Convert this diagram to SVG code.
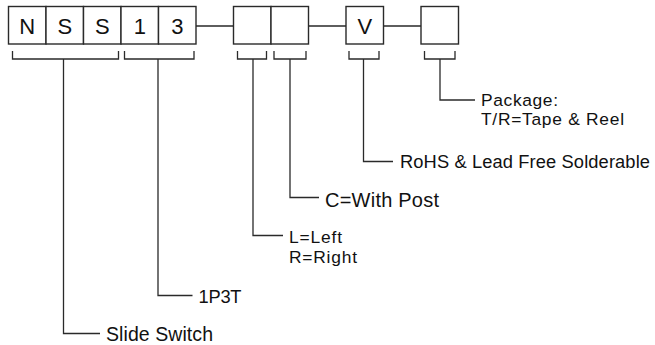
<svg xmlns="http://www.w3.org/2000/svg" width="655" height="345" viewBox="0 0 655 345">
<style>
.box{fill:#fff;stroke:#2a2a2a;stroke-width:1.4}
.ln{fill:none;stroke:#2a2a2a;stroke-width:1.3}
.ch{font-family:"Liberation Sans",Arial,sans-serif;font-size:22px;fill:#111;text-anchor:middle}
.lb{font-family:"Liberation Sans",Arial,sans-serif;font-size:18.3px;fill:#111}
.two{font-size:17.4px}
</style>
<rect width="655" height="345" fill="#fff"/>
<g id="connectors">
<path class="ln" d="M196 26H233.5M308.5 26H346M383.5 26H421"/>
<path class="ln" d="M12.5 51V59H118.5V51M63.5 59V333.5H100"/>
<path class="ln" d="M124.5 51V59H194V51M158 59V295.5H192.5"/>
<path class="ln" d="M237.5 51V59H266.5V51M253 59V235.5H283"/>
<path class="ln" d="M274 51V59H306V51M290 59V197.5H319"/>
<path class="ln" d="M349 51V59H379V51M363.5 59V161.5H393"/>
<path class="ln" d="M424.5 51V59H455V51M440 59V100H475"/>
</g>
<g id="node-N"><rect class="box" x="8.5" y="6.5" width="37.5" height="37.5"/><text class="ch" x="27.25" y="33.5">N</text></g>
<g id="node-S1"><rect class="box" x="46" y="6.5" width="37.5" height="37.5"/><text class="ch" x="64.75" y="33.5">S</text></g>
<g id="node-S2"><rect class="box" x="83.5" y="6.5" width="37.5" height="37.5"/><text class="ch" x="102.25" y="33.5">S</text></g>
<g id="node-1"><rect class="box" x="121" y="6.5" width="37.5" height="37.5"/><text class="ch" x="139.75" y="33.5">1</text></g>
<g id="node-3"><rect class="box" x="158.5" y="6.5" width="37.5" height="37.5"/><text class="ch" x="177.25" y="33.5">3</text></g>
<g id="node-LR"><rect class="box" x="233.5" y="6.5" width="37.5" height="37.5"/></g>
<g id="node-C"><rect class="box" x="271" y="6.5" width="37.5" height="37.5"/></g>
<g id="node-V"><rect class="box" x="346" y="6.5" width="37.5" height="37.5"/><text class="ch" x="364.75" y="33.5">V</text></g>
<g id="node-pkg"><rect class="box" x="421" y="6.5" width="37.5" height="37.5"/></g>
<g id="labels">
<text class="lb two" x="481" y="105.5" textLength="77">Package:</text>
<text class="lb two" x="481" y="125.2" textLength="143">T/R=Tape &amp; Reel</text>
<text class="lb" x="400" y="168.3" textLength="250">RoHS &amp; Lead Free Solderable</text>
<text class="lb" x="325" y="206.8" style="font-size:20px" textLength="114">C=With Post</text>
<text class="lb two" x="289" y="243" textLength="53">L=Left</text>
<text class="lb two" x="289" y="262.7" textLength="68">R=Right</text>
<text class="lb" x="198.5" y="302.7" textLength="43">1P3T</text>
<text class="lb" x="106" y="340.7" style="font-size:19.5px" textLength="107">Slide Switch</text>
</g>
</svg>
